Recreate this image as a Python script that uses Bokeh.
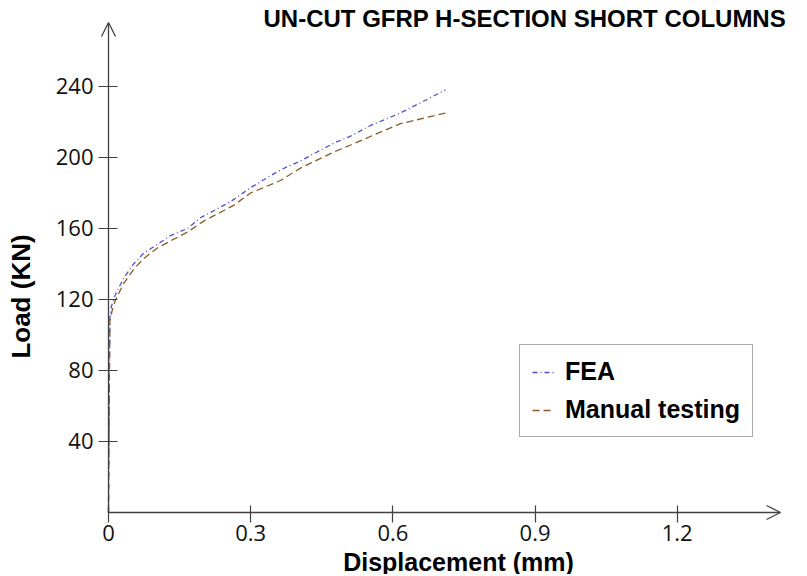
from bokeh.plotting import figure
from bokeh.models import Range1d, FixedTicker, Label, Arrow, OpenHead, Legend, LegendItem
from bokeh.embed import file_html
from bokeh.resources import INLINE
import math

# ---- data ----
fea_disp = [0, 0.001, 0.002, 0.003, 0.006, 0.015, 0.032, 0.053, 0.074, 0.103, 0.131, 0.167,
            0.194, 0.257, 0.300, 0.363, 0.405, 0.475, 0.511, 0.553, 0.616, 0.711]
fea_load = [0, 40, 80, 110, 116, 123, 132, 140, 146, 151, 156, 160,
            166, 175, 183, 193, 198, 208, 212, 218, 225, 238]

man_disp = [0, 0.001, 0.002, 0.003, 0.008, 0.015, 0.032, 0.053, 0.074, 0.103, 0.131, 0.167,
            0.200, 0.264, 0.300, 0.363, 0.405, 0.475, 0.511, 0.563, 0.616, 0.711]
man_load = [0, 40, 80, 108, 114, 120, 129, 137, 143, 149, 153, 158,
            164, 173, 180, 187, 194, 203, 207, 213, 219, 225]

x_ticks = [0, 0.3, 0.6, 0.9, 1.2]
y_ticks = [40, 80, 120, 160, 200, 240]
x_max = 1.418
y_max = 276

title_text = "UN-CUT GFRP H-SECTION SHORT COLUMNS"
x_label_text = "Displacement (mm)"
y_label_text = "Load (KN)"
series_names = ["FEA", "Manual testing"]

AXIS = "#404040"
BLUE = "#5050c8"
BROWN = "#8b5a2b"
FONT = "Liberation Sans"

# canvas layout (pixels): the plotting area spans the whole canvas so that
# the free-floating labels and arrow heads are never clipped
W, H = 805, 574
ORIG_X, ORIG_Y = 108, 512        # pixel position of the data origin
AX_LEN_X, AX_LEN_Y = 672, 490    # pixel length of the two axes
kx = AX_LEN_X / x_max
ky = AX_LEN_Y / y_max

p = figure(width=W, height=H, output_backend="svg", toolbar_location=None, title=None,
           x_range=Range1d(-ORIG_X / kx, (W - ORIG_X) / kx),
           y_range=Range1d(-(H - ORIG_Y) / ky, ORIG_Y / ky),
           min_border=0)
p.outline_line_color = None
p.grid.visible = False
p.background_fill_color = "white"
p.border_fill_color = "white"

p.xaxis.ticker = FixedTicker(ticks=x_ticks)
p.yaxis.ticker = FixedTicker(ticks=y_ticks)
p.xaxis.major_label_overrides = {0: "0"}
p.xaxis.fixed_location = 0
p.yaxis.fixed_location = 0
p.xaxis.bounds = (0, x_max)
p.yaxis.bounds = (0, y_max)
for ax in (p.xaxis, p.yaxis):
    ax.axis_line_color = None
    ax.major_tick_line_color = AXIS
    ax.major_tick_line_width = 1.2
    ax.minor_tick_line_color = None
    ax.major_label_text_font = "Open Sans"
    ax.major_label_text_font_size = "22px"
    ax.major_label_text_color = "#111111"
p.yaxis.major_tick_in = 9
p.yaxis.major_tick_out = 10
p.yaxis.major_label_standoff = 5
p.xaxis.major_tick_in = 7
p.xaxis.major_tick_out = 10
p.xaxis.major_label_standoff = 2

# axes drawn as arrows
p.add_layout(Arrow(end=OpenHead(size=14, line_color=AXIS, line_width=1.3),
                   x_start=0, y_start=0, x_end=x_max, y_end=0,
                   line_color=AXIS, line_width=1.3))
p.add_layout(Arrow(end=OpenHead(size=14, line_color=AXIS, line_width=1.3),
                   x_start=0, y_start=0, x_end=0, y_end=y_max,
                   line_color=AXIS, line_width=1.3))

r_fea = p.line(fea_disp, fea_load, line_color=BLUE, line_width=1.3, line_dash="5 3 1 3")
r_man = p.line(man_disp, man_load, line_color=BROWN, line_width=1.3, line_dash="7 4")

legend = Legend(items=[LegendItem(label=series_names[0], renderers=[r_fea]),
                       LegendItem(label=series_names[1], renderers=[r_man])],
                location=(519, H - 437))
legend.label_text_font = FONT
legend.label_text_font_style = "bold"
legend.label_text_font_size = "25px"
legend.label_text_color = "black"
legend.glyph_width = 22
legend.glyph_height = 22
legend.label_height = 22
legend.label_standoff = 11
legend.spacing = 9
legend.padding = 12
legend.margin = 0
legend.border_line_color = "#555555"
legend.border_line_width = 1.3
legend.background_fill_alpha = 1
p.add_layout(legend, "center")

p.add_layout(Label(x=263, y=H - 18, x_units="screen", y_units="screen", text=title_text,
                   text_font=FONT, text_font_style="bold", text_font_size="24px",
                   text_align="left", text_baseline="alphabetic", text_color="black"))
p.add_layout(Label(x=458, y=H - 561, x_units="screen", y_units="screen", text=x_label_text,
                   text_font=FONT, text_font_style="bold", text_font_size="25px",
                   text_align="center", text_baseline="alphabetic", text_color="black"))
p.add_layout(Label(x=20, y=H - 296, x_units="screen", y_units="screen", text=y_label_text,
                   angle=math.pi / 2, text_font=FONT, text_font_style="bold",
                   text_font_size="26px", text_align="center", text_baseline="middle",
                   text_color="black"))

open("out.html", "w").write(file_html(p, INLINE))
